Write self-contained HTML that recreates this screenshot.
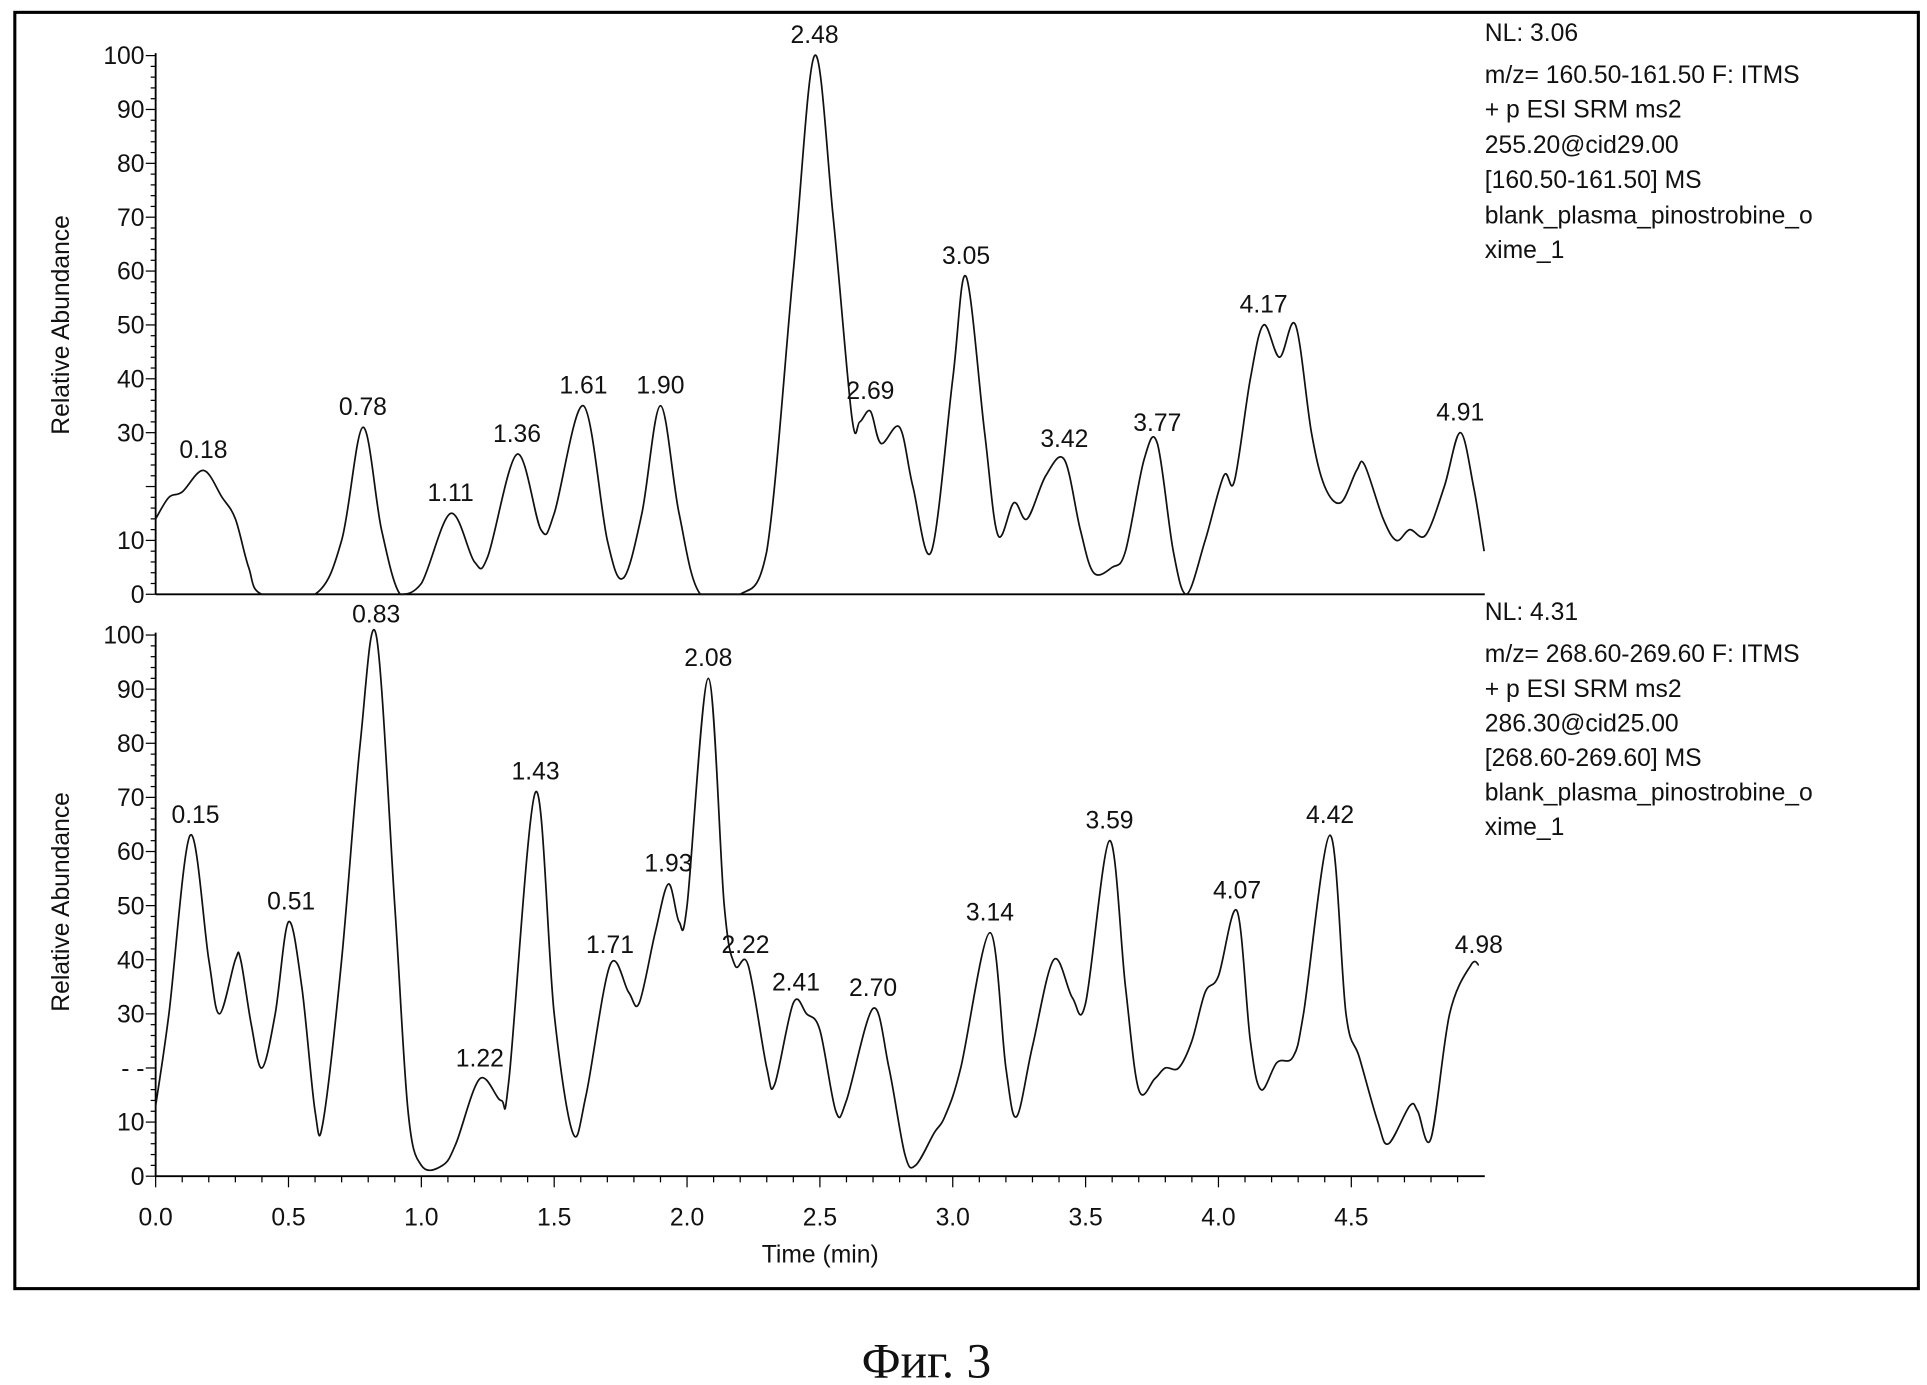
<!DOCTYPE html>
<html><head><meta charset="utf-8"><style>
html,body{margin:0;padding:0;background:#fff;}
svg{display:block;}
text{font-family:"Liberation Sans",sans-serif;fill:#111;}
</style></head><body>
<svg id="s" width="1927" height="1385" viewBox="0 0 1560 1121" preserveAspectRatio="none" xmlns="http://www.w3.org/2000/svg">
<rect x="12" y="10" width="1541" height="1033" fill="none" stroke="#000" stroke-width="2.5"/>
<g id="g"></g>
<text x="664" y="1022" font-size="20" text-anchor="middle">Time (min)</text>
<text x="750" y="1115" font-size="40" text-anchor="middle" style="font-family:'Liberation Serif',serif">Фиг. 3</text>
<g font-size="20">
<text x="1202" y="33">NL: 3.06</text>
<text x="1202" y="67">m/z= 160.50-161.50 F: ITMS</text>
<text x="1202" y="95">+ p ESI SRM ms2</text>
<text x="1202" y="124">255.20@cid29.00</text>
<text x="1202" y="152">[160.50-161.50]  MS</text>
<text x="1202" y="181">blank_plasma_pinostrobine_o</text>
<text x="1202" y="209">xime_1</text>
<text x="1202" y="502">NL: 4.31</text>
<text x="1202" y="536">m/z= 268.60-269.60 F: ITMS</text>
<text x="1202" y="564">+ p ESI SRM ms2</text>
<text x="1202" y="592">286.30@cid25.00</text>
<text x="1202" y="620">[268.60-269.60]  MS</text>
<text x="1202" y="648">blank_plasma_pinostrobine_o</text>
<text x="1202" y="676">xime_1</text>
</g>
<text font-size="20" transform="translate(56,263) rotate(-90)" text-anchor="middle">Relative Abundance</text>
<text font-size="20" transform="translate(56,730) rotate(-90)" text-anchor="middle">Relative Abundance</text>
</svg>
<script>
(function(){
var g=document.getElementById('g');var NS='http://www.w3.org/2000/svg';
var X0=126,PX=215.1;
function el(t,a,txt){var e=document.createElementNS(NS,t);for(var k in a)e.setAttribute(k,a[k]);if(txt!=null)e.textContent=txt;g.appendChild(e);return e;}
function panel(y0,y100,pts,labels,xaxis,skip20){
 var sy=(y0-y100)/100;
 function Y(v){return y0-v*sy;} function Xf(t){return X0+t*PX;}
 el('line',{x1:X0,y1:y100-2,x2:X0,y2:y0,stroke:'#000','stroke-width':1.5});
 el('line',{x1:X0,y1:y0,x2:1202,y2:y0,stroke:'#000','stroke-width':1.5});
 for(var v=0;v<=100;v+=2){var maj=v%10==0;el('line',{x1:X0-(maj?8:4),y1:Y(v),x2:X0,y2:Y(v),stroke:'#000','stroke-width':1});
  if(maj&&!(v==20)){el('text',{x:X0-9,y:Y(v)+7,'font-size':20,'text-anchor':'end'},String(v));}}
 if(skip20) el('text',{x:X0-9,y:Y(20)+7,'font-size':20,'text-anchor':'end'},'- -');
 if(xaxis){for(var i=0;i<=49;i++){var t=i/10,maj=i%5==0;el('line',{x1:Xf(t),y1:y0,x2:Xf(t),y2:y0+(maj?9:5),stroke:'#000','stroke-width':1});
  if(maj)el('text',{x:Xf(t),y:y0+40,'font-size':20,'text-anchor':'middle'},t.toFixed(1));}}
 var P=pts.map(function(p){return [Xf(p[0]),Y(p[1])];});
 var d='M'+P[0][0]+','+P[0][1];
 for(var i=0;i<P.length-1;i++){var p0=P[Math.max(0,i-1)],p1=P[i],p2=P[i+1],p3=P[Math.min(P.length-1,i+2)];
  var c1x=p1[0]+(p2[0]-p0[0])/6,c1y=p1[1]+(p2[1]-p0[1])/6,c2x=p2[0]-(p3[0]-p1[0])/6,c2y=p2[1]-(p3[1]-p1[1])/6;
  c1y=Math.min(c1y,y0);c2y=Math.min(c2y,y0);
  d+=' C'+c1x+','+c1y+' '+c2x+','+c2y+' '+p2[0]+','+p2[1];}
 el('path',{d:d,fill:'none',stroke:'#111','stroke-width':1.4});
 labels.forEach(function(l){el('text',{x:Xf(l[0]),y:Y(l[1])-10,'font-size':20,'text-anchor':'middle'},l[0].toFixed(2));});
}
var tr1=[[0,14],[0.05,18],[0.1,19],[0.18,23],[0.25,18],[0.3,14],[0.35,5],[0.4,0],[0.6,0],[0.7,10],[0.78,31],[0.85,12],[0.92,0],[1.0,2],[1.11,15],[1.2,6],[1.25,7],[1.36,26],[1.45,12],[1.5,15],[1.61,35],[1.7,10],[1.76,3],[1.83,15],[1.9,35],[1.97,15],[2.05,0],[2.2,0],[2.3,8],[2.4,60],[2.48,100],[2.55,70],[2.62,33],[2.65,32],[2.69,34],[2.73,28],[2.8,31],[2.85,20],[2.92,8],[3.0,40],[3.05,59],[3.12,30],[3.17,11],[3.23,17],[3.28,14],[3.35,22],[3.42,25],[3.48,12],[3.53,4],[3.6,5],[3.65,8],[3.72,25],[3.77,28],[3.83,8],[3.88,0],[3.95,10],[4.02,22],[4.06,21],[4.12,40],[4.17,50],[4.23,44],[4.29,50],[4.35,30],[4.4,20],[4.46,17],[4.52,23],[4.55,24],[4.62,14],[4.67,10],[4.72,12],[4.78,11],[4.85,20],[4.91,30],[4.96,20],[5.0,8]];
var tr2=[[0,13],[0.05,30],[0.13,63],[0.2,40],[0.24,30],[0.3,40],[0.32,40],[0.36,28],[0.4,20],[0.45,30],[0.5,47],[0.55,35],[0.6,12],[0.63,10],[0.7,40],[0.77,80],[0.83,100],[0.9,50],[0.95,12],[1.0,2],[1.08,2],[1.13,6],[1.22,18],[1.3,14],[1.33,18],[1.43,71],[1.5,30],[1.57,8],[1.62,15],[1.71,39],[1.78,34],[1.82,32],[1.88,45],[1.93,54],[1.97,47],[2.0,50],[2.08,92],[2.14,50],[2.18,39],[2.23,39],[2.3,20],[2.33,17],[2.4,32],[2.45,30],[2.5,27],[2.56,12],[2.6,14],[2.7,31],[2.76,20],[2.82,4],[2.86,2],[2.93,8],[2.97,11],[3.03,20],[3.14,45],[3.2,20],[3.24,11],[3.3,24],[3.38,40],[3.45,33],[3.5,32],[3.59,62],[3.65,35],[3.7,16],[3.76,18],[3.8,20],[3.85,20],[3.9,25],[3.95,34],[4.0,37],[4.07,49],[4.12,25],[4.16,16],[4.22,21],[4.28,22],[4.32,30],[4.42,63],[4.48,30],[4.53,22],[4.6,10],[4.64,6],[4.72,13],[4.75,12],[4.8,7],[4.87,30],[4.95,39],[4.98,39]];
panel(481,45,tr1,[[0.18,23],[0.78,31],[1.11,15],[1.36,26],[1.61,35],[1.90,35],[2.48,100],[2.69,34],[3.05,59],[3.42,25],[3.77,28],[4.17,50],[4.91,30]],false,false);
panel(952,514,tr2,[[0.15,63],[0.51,47],[0.83,100],[1.22,18],[1.43,71],[1.71,39],[1.93,54],[2.08,92],[2.22,39],[2.41,32],[2.70,31],[3.14,45],[3.59,62],[4.07,49],[4.42,63],[4.98,39]],true,true);
})();
</script>
</body></html>
